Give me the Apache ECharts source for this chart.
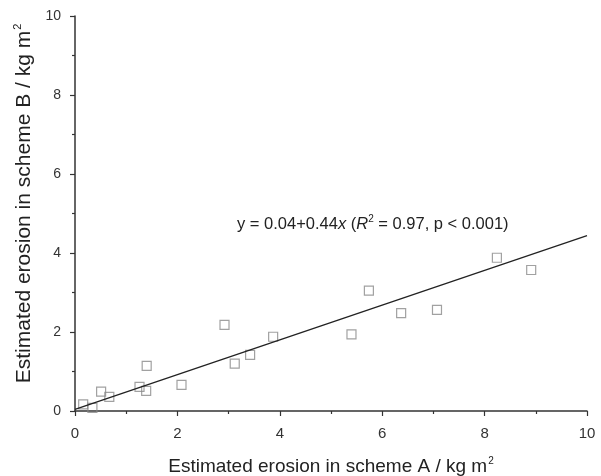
<!DOCTYPE html>
<html>
<head>
<meta charset="utf-8">
<script src="https://cdn.jsdelivr.net/npm/echarts@6/dist/echarts.min.js"></script>
<style>
  html, body { margin: 0; padding: 0; background: #fff; }
  #chart { width: 601px; height: 476px; }
</style>
</head>
<body>
<div id="chart"></div>
<script>
// scheme A vs scheme B estimated erosion (kg m-2)
var schemeA = [0.16, 0.34, 0.51, 0.67, 1.26, 1.39, 1.40, 2.08, 2.92, 3.12, 3.42, 3.87, 5.40, 5.74, 6.37, 7.07, 8.24, 8.91];
var schemeB = [0.17, 0.08, 0.49, 0.36, 0.61, 0.51, 1.14, 0.66, 2.18, 1.20, 1.42, 1.88, 1.94, 3.05, 2.48, 2.56, 3.88, 3.57];

// fitted line end points
var fitX = [0, 10];
var fitY = [0.04, 4.44];

var xTicks = [0, 2, 4, 6, 8, 10];
var yTicks = [0, 2, 4, 6, 8, 10];

var points = schemeA.map(function (a, i) { return [a, schemeB[i]]; });
var fitLine = fitX.map(function (x, i) { return [x, fitY[i]]; });

var font = 'Liberation Sans, Arial, sans-serif';
var chart = echarts.init(document.getElementById('chart'));

function supStyle(size, pad) {
    return { fontSize: size, fontFamily: font, color: '#222', verticalAlign: 'top', padding: pad };
}

var axisCommon = {
    type: 'value',
    min: xTicks[0],
    max: xTicks[xTicks.length - 1],
    interval: xTicks[1] - xTicks[0],
    axisLine: { show: true, lineStyle: { color: '#333', width: 1.5 } },
    axisTick: { show: true, inside: false, length: 5, lineStyle: { color: '#333', width: 1.2 } },
    minorTick: { show: true, splitNumber: 2, length: 3, lineStyle: { color: '#333', width: 1.2 } },
    splitLine: { show: false },
    nameLocation: 'middle'
};

var option = {
    backgroundColor: '#fff',
    animation: false,
    grid: { left: 75, right: 14, top: 16, bottom: 65, containLabel: false, outerBoundsMode: 'none' },
    xAxis: Object.assign({}, axisCommon, {
        name: 'Estimated erosion in scheme A / kg m{sup|2}',
        nameGap: 45,
        axisLabel: { color: '#333', fontSize: 15, fontFamily: font, margin: 15 },
        nameTextStyle: {
            color: '#222', fontSize: 19, fontFamily: font,
            rich: { sup: supStyle(10, [0, 0, 11, 1]) }
        }
    }),
    yAxis: Object.assign({}, axisCommon, {
        min: yTicks[0],
        max: yTicks[yTicks.length - 1],
        interval: yTicks[1] - yTicks[0],
        name: 'Estimated erosion in scheme B / kg m{sup|2}',
        nameGap: 37,
        axisLabel: { color: '#333', fontSize: 14, fontFamily: font, margin: 14 },
        nameTextStyle: {
            color: '#222', fontSize: 21, fontFamily: font,
            padding: [0, 0, 0, 20],
            rich: { sup: supStyle(11, [0, 0, 12, 1]) }
        }
    }),
    graphic: [{
        type: 'text',
        left: 237,
        top: 214,
        style: {
            text: 'y = 0.04+0.44{i|x} ({i|R}{sup|2} = 0.97, p < 0.001)',
            font: '16.5px ' + font,
            fill: '#222',
            rich: {
                i: { fontStyle: 'italic', fontSize: 16.5, fontFamily: font, fill: '#222' },
                sup: { fontSize: 10, fontFamily: font, fill: '#222', verticalAlign: 'top', padding: [0, 0, 10, 0] }
            }
        }
    }],
    series: [
        {
            type: 'line',
            data: fitLine,
            symbol: 'none',
            lineStyle: { color: '#222', width: 1.3 },
            silent: true
        },
        {
            type: 'scatter',
            data: points,
            symbol: 'rect',
            symbolSize: 9,
            itemStyle: { color: 'transparent', borderColor: '#8a8a8a', borderWidth: 1.2 }
        }
    ]
};

chart.setOption(option);
</script>
</body>
</html>
